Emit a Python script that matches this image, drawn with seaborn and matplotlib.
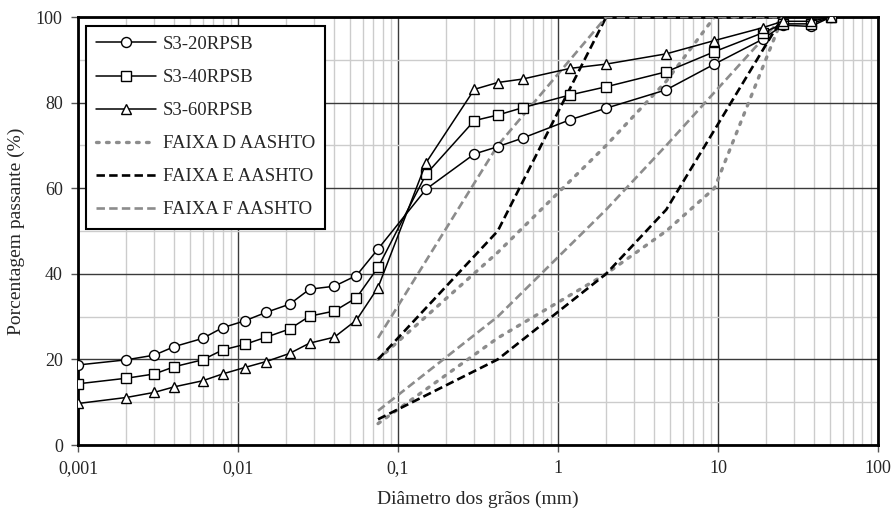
import matplotlib
matplotlib.use("Agg")
import matplotlib.pyplot as plt
import seaborn as sns
import numpy as np
import pandas as pd
from matplotlib.ticker import FixedLocator, FixedFormatter, NullFormatter, LogLocator

# ---- data ----
diam_s = [0.001, 0.002, 0.003, 0.004, 0.006, 0.008, 0.011, 0.015, 0.021, 0.028, 0.04, 0.055, 0.075,
          0.15, 0.3, 0.42, 0.6, 1.19, 2.0, 4.75, 9.5, 19.0, 25.4, 38.1, 50.8]
s3_20 = [18.7, 19.9, 21.0, 23.0, 24.9, 27.4, 29.0, 31.0, 32.9, 36.4, 37.1, 39.6, 45.8,
         59.8, 68.0, 69.7, 71.7, 76.0, 78.7, 83.0, 89.0, 94.8, 98.1, 97.8, 100.0]
s3_40 = [14.3, 15.6, 16.6, 18.3, 19.9, 22.2, 23.5, 25.2, 27.1, 30.1, 31.3, 34.4, 41.5,
         63.3, 75.8, 77.1, 78.8, 81.8, 83.7, 87.2, 91.9, 96.3, 98.4, 98.4, 100.0]
s3_60 = [9.7, 11.1, 12.3, 13.6, 15.0, 16.6, 18.1, 19.5, 21.4, 23.8, 25.2, 29.2, 36.8,
         66.0, 83.1, 84.7, 85.5, 88.0, 89.0, 91.4, 94.5, 97.5, 99.0, 99.0, 100.0]

d_x_low = [0.075, 0.42, 2.0, 4.75, 9.5, 25.4]
d_low = [5, 25, 40, 50, 60, 100]
d_x_up = [0.075, 0.42, 2.0, 4.75, 9.5, 25.4]
d_up = [20, 45, 70, 85, 100, 100]

e_x_low = [0.075, 0.42, 2.0, 4.75, 25.4]
e_low = [6, 20, 40, 55, 100]
e_x_up = [0.075, 0.42, 2.0, 25.4]
e_up = [20, 50, 100, 100]

f_x_low = [0.075, 0.42, 2.0, 4.75, 25.4]
f_low = [8, 30, 55, 70, 100]
f_x_up = [0.075, 0.42, 2.0, 25.4]
f_up = [25, 70, 100, 100]

xticks = [0.001, 0.01, 0.1, 1, 10, 100]
xticklabels = ["0,001", "0,01", "0,1", "1", "10", "100"]
yticks = [0, 20, 40, 60, 80, 100]

# ---- plot ----
sns.set_theme(style="white")
plt.rcParams['font.family'] = ['Liberation Serif', 'DejaVu Serif']

fig = plt.figure(figsize=(8.95, 5.08), dpi=100)
ax = fig.add_axes([0.0872, 0.124, 0.8938, 0.8425])
ax.set_xscale('log')
ax.set_axisbelow(True)

band_styles = [
    ("FAIXA D AASHTO", d_x_low, d_low, d_x_up, d_up, dict(color="#8c8c8c", linestyle=(0, (0.8, 2.2)), linewidth=2.4, dash_capstyle='round')),
    ("FAIXA E AASHTO", e_x_low, e_low, e_x_up, e_up, dict(color="black", linestyle=(0, (3.2, 1.6)), linewidth=1.9)),
    ("FAIXA F AASHTO", f_x_low, f_low, f_x_up, f_up, dict(color="#8c8c8c", linestyle=(0, (3.2, 1.6)), linewidth=1.9)),
]

series = [("S3-20RPSB", s3_20, 'o'), ("S3-40RPSB", s3_40, 's'), ("S3-60RPSB", s3_60, '^')]
handles = []
for name, vals, mk in series:
    sns.lineplot(x=diam_s, y=vals, ax=ax, color="black", linewidth=1.1, marker=mk,
                 markersize=7.2 if mk != 's' else 6.8, markerfacecolor='white', markeredgecolor='black',
                 markeredgewidth=1.0, sort=False, estimator=None, zorder=5)
    handles.append(ax.lines[-1])

for name, xl, yl, xu, yu, st in band_styles:
    sns.lineplot(x=xl, y=yl, ax=ax, sort=False, estimator=None, zorder=3, **st)
    handles.append(ax.lines[-1])
    sns.lineplot(x=xu, y=yu, ax=ax, sort=False, estimator=None, zorder=3, **st)

labels = [s[0] for s in series] + [b[0] for b in band_styles]

ax.set_xlim(0.001, 100)
ax.set_ylim(0, 100)

ax.xaxis.set_major_locator(FixedLocator(xticks))
ax.xaxis.set_major_formatter(FixedFormatter(xticklabels))
ax.xaxis.set_minor_locator(LogLocator(base=10, subs=np.arange(2, 10), numticks=50))
ax.xaxis.set_minor_formatter(NullFormatter())
ax.yaxis.set_major_locator(FixedLocator(yticks))
ax.yaxis.set_minor_locator(FixedLocator([10, 30, 50, 70, 90]))

ax.grid(True, which='major', axis='both', color='#3a3a3a', linewidth=1.0)
ax.grid(True, which='minor', axis='both', color='#cccccc', linewidth=1.0)

for sp in ax.spines.values():
    sp.set_visible(True)
    sp.set_color('black')
    sp.set_linewidth(2.0)

ax.tick_params(axis='both', which='major', direction='out', length=5, width=1, color='#555555',
               labelsize=13, pad=6, bottom=True, left=True)
ax.tick_params(axis='both', which='minor', length=0)

ax.set_xlabel("Diâmetro dos grãos (mm)", fontsize=14, labelpad=10)
ax.set_ylabel("Porcentagem passante (%)", fontsize=14, labelpad=8)

leg = ax.legend(handles, labels, loc='upper left', bbox_to_anchor=(0.01, 0.98), borderaxespad=0,
                fontsize=13.5, frameon=True, fancybox=False, edgecolor='black', framealpha=1,
                handlelength=3.2, handletextpad=0.35, labelspacing=0.85, borderpad=0.55)
leg.get_frame().set_linewidth(1.5)

fig.savefig("out.png", dpi=100)
